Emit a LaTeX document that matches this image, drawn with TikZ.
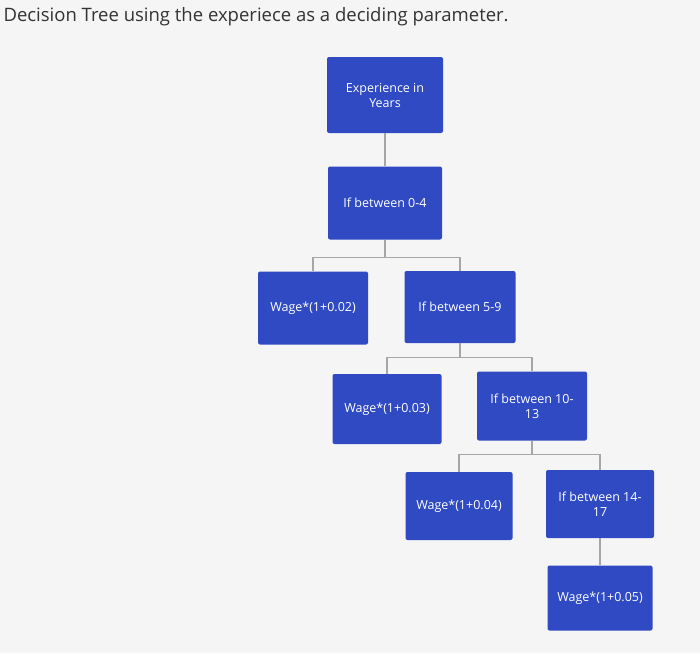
\documentclass[tikz,border=0pt]{standalone}
\usepackage{fontspec}
\setmainfont{Open Sans}
\begin{document}
\begin{tikzpicture}[x=1pt,y=-1pt,
 box/.style={draw=none,fill=boxblue,text=white,rounded corners=2pt,minimum width=#1,align=center,font=\fontsize{12.5}{15}\selectfont,inner sep=2pt},
 box/.default=112pt,
 conn/.style={draw=gray!70,line width=1.2pt}]
\definecolor{boxblue}{HTML}{2F4AC2}
\fill[gray!8] (0,0) rectangle (700,653);
\useasboundingbox (0,0) rectangle (700,653);
\node[anchor=west,font=\fontsize{18.5}{22}\selectfont,text=black!80] (title) at (0,17) {Decision Tree using the experiece as a deciding parameter.};
\node[box=116pt,minimum height=76pt] (exp) at (385,95) {Experience in\\Years};
\node[box=114pt,minimum height=73pt] (a) at (385,203) {If between 0-4};
\node[box=110pt,minimum height=73pt] (w2) at (313,308) {Wage*(1+0.02)};
\node[box=111pt,minimum height=72pt] (b) at (460,307) {If between 5-9};
\node[box=109pt,minimum height=70pt] (w3) at (387,409) {Wage*(1+0.03)};
\node[box=110pt,minimum height=69pt] (c) at (532,406) {If between 10-\\13};
\node[box=107pt,minimum height=68pt] (w4) at (459,506) {Wage*(1+0.04)};
\node[box=108pt,minimum height=68pt] (d) at (600,504) {If between 14-\\17};
\node[box=105pt,minimum height=65pt] (w5) at (600,598) {Wage*(1+0.05)};
\draw[conn] (exp.south) -- (a.north);
\draw[conn] (a.south) -- ++(0,18) coordinate (ja);
\draw[conn] (w2.north) -- (w2.north|-ja) -- (b.north|-ja) -- (b.north);
\draw[conn] (b.south) -- ++(0,14) coordinate (jb);
\draw[conn] (w3.north) -- (w3.north|-jb) -- (c.north|-jb) -- (c.north);
\draw[conn] (c.south) -- ++(0,14) coordinate (jc);
\draw[conn] (w4.north) -- (w4.north|-jc) -- (d.north|-jc) -- (d.north);
\draw[conn] (d.south) -- (w5.north);
\end{tikzpicture}
\end{document}
